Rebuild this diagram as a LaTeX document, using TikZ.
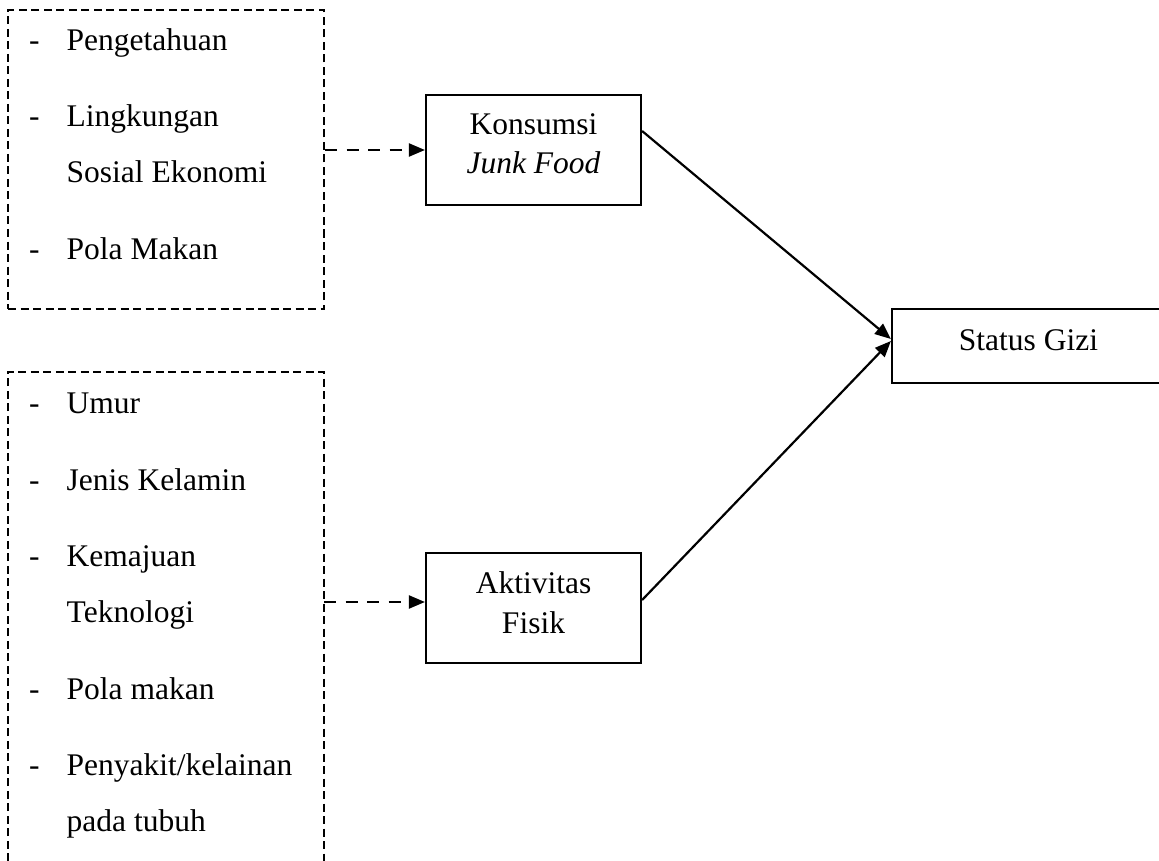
\documentclass[tikz,border=0pt]{standalone}
\usepackage{fontspec}
\setmainfont{Liberation Serif}
\usetikzlibrary{arrows.meta}
\begin{document}
\begin{tikzpicture}[x=1pt,y=-1pt,
  txt/.style={anchor=base west, inner sep=0pt, font=\fontsize{31.5}{39}\selectfont},
  ctxt/.style={anchor=base, inner sep=0pt, font=\fontsize{31.5}{39}\selectfont},
  dbox/.style={draw, dash pattern=on 8pt off 4.5pt, line width=2pt, inner sep=0pt},
  sbox/.style={draw, line width=2.2pt, inner sep=0pt},
  darrow/.style={dash pattern=on 12pt off 9.5pt, line width=2.2pt, -{Triangle[length=16pt,width=13pt]}},
  sarrow/.style={line width=2.2pt, -{Triangle[length=16pt,width=13pt]}}]
\useasboundingbox (0,0) rectangle (1159,861);

% upper dashed box
\node[dbox, minimum width=316pt, minimum height=299pt] (f1) at (166,159.5) {};
\node[txt] (b1) at (29,50.7) {-};
\node[txt] (t1) at (66.5,50.7) {Pengetahuan};
\node[txt] (b2) at (29,126.7) {-};
\node[txt] (t2) at (66.5,126.7) {Lingkungan};
\node[txt] (t2b) at (66.5,182.7) {Sosial Ekonomi};
\node[txt] (b3) at (29,259.3) {-};
\node[txt] (t3) at (66.5,259.3) {Pola Makan};

% lower dashed box (open at bottom)
\node[inner sep=0pt, minimum width=316pt, minimum height=489pt] (f2) at (166,616.5) {};
\draw[dash pattern=on 8pt off 4.5pt, line width=2pt]
  (f2.south west) -- (f2.north west) -- (f2.north east) -- (f2.south east);
\node[txt] (c1) at (29,413.3) {-};
\node[txt] (u1) at (66.5,413.3) {Umur};
\node[txt] (c2) at (29,490) {-};
\node[txt] (u2) at (66.5,490) {Jenis Kelamin};
\node[txt] (c3) at (29,566) {-};
\node[txt] (u3) at (66.5,566) {Kemajuan};
\node[txt] (u3b) at (66.5,622) {Teknologi};
\node[txt] (c4) at (29,699.3) {-};
\node[txt] (u4) at (66.5,699.3) {Pola makan};
\node[txt] (c5) at (29,775.5) {-};
\node[txt] (u5) at (66.5,775.5) {Penyakit/kelainan};
\node[txt] (u5b) at (66.5,831) {pada tubuh};

% middle boxes
\node[sbox, minimum width=215pt, minimum height=110pt] (k) at (533.5,150) {};
\node[ctxt] (kt1) at (533.5,135) {Konsumsi};
\node[ctxt] (kt2) at (533.5,174) {\textit{Junk Food}};

\node[sbox, minimum width=215pt, minimum height=110pt] (a) at (533.5,608) {};
\node[ctxt] (at1) at (533.5,593) {Aktivitas};
\node[ctxt] (at2) at (533.5,633) {Fisik};

% status gizi
\node[sbox, minimum width=273pt, minimum height=74pt] (s) at (1028.5,346) {};
\node[ctxt] (st) at (1028.5,350) {Status Gizi};

% connectors
\draw[darrow] (k.west -| f1.east) -- (k.west);
\coordinate (aw) at ([yshift=6pt]a.west);
\draw[darrow] (aw -| f2.east) -- (aw);
\draw[sarrow] ([yshift=19pt]k.east) -- ([yshift=7pt]s.west);
\draw[sarrow] ([yshift=8pt]a.east) -- ([yshift=5pt]s.west);
\end{tikzpicture}
\end{document}
